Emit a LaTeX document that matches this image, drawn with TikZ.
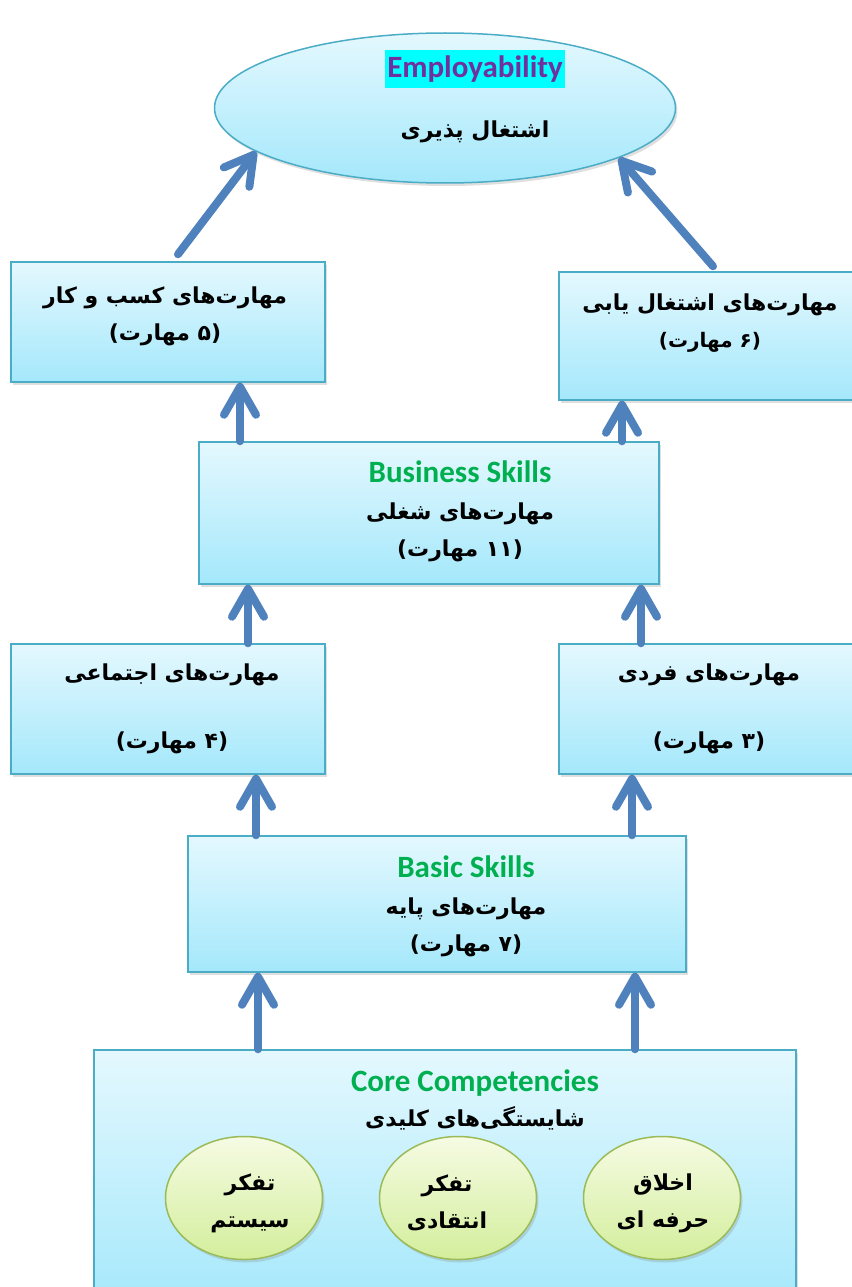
\documentclass[tikz,border=0pt]{standalone}
\usepackage{fontspec}
\setmainfont{Carlito}
\newfontfamily\farsi[Script=Arabic]{DejaVu Sans}
\TeXXeTstate=1
\usepackage{tikz}
\usetikzlibrary{positioning, arrows.meta, shapes.geometric, shadows}
\definecolor{skyedge}{HTML}{4BACC6}
\definecolor{skytop}{HTML}{E4F8FE}
\definecolor{skybot}{HTML}{A4E8FB}
\definecolor{leafedge}{HTML}{9BBB59}
\definecolor{leaftop}{HTML}{F6FBE3}
\definecolor{leafbot}{HTML}{D3EE9C}
\definecolor{arrowblue}{HTML}{4F81BD}
\definecolor{skillgreen}{HTML}{00B050}
\definecolor{titlepurple}{HTML}{7030A0}
\definecolor{markcyan}{HTML}{00FFFF}
\newcommand{\fa}[1]{{\farsi\bfseries\fontsize{22}{37}\selectfont\beginR #1\endR}}
\tikzstyle{bblock} = [rectangle, draw=skyedge, line width=1.5pt, top color=skytop, bottom color=skybot,
drop shadow={shadow xshift=2pt, shadow yshift=-3pt, opacity=0.25}, inner sep=0pt]
\tikzstyle{gblock} = [ellipse, draw=leafedge, line width=1.5pt, top color=leaftop, bottom color=leafbot,
drop shadow={shadow xshift=2pt, shadow yshift=-3pt, opacity=0.25}, inner sep=0pt,
minimum width=157pt, minimum height=123pt]
\tikzstyle{fatext} = [align=center, font=\fontsize{22}{37}\selectfont]
\tikzstyle{mixtext} = [align=center, font=\bfseries\fontsize{31}{37}\selectfont]
\tikzstyle{arrow} = [line width=8pt, arrowblue, line cap=round, -{Straight Barb[length=28pt, width=32pt, round]}]

\begin{document}
\begin{tikzpicture}[x=1pt, y=-1pt]
    \useasboundingbox (0,0) rectangle (851,1287);
    % top goal
    \node (Employ) [ellipse, draw=skyedge, line width=1.5pt, top color=skytop, bottom color=skybot,
        drop shadow={shadow xshift=2pt, shadow yshift=-3pt, opacity=0.25},
        minimum width=461pt, minimum height=150pt] at (445,108) {};
    \node (EmployEn) [fill=markcyan, text=titlepurple, font=\bfseries\fontsize{31}{37}\selectfont,
        inner xsep=2pt, minimum height=38pt] at (475,69) {Employability};
    \node (EmployFa) [fatext] at (475,132) {\fa{اشتغال پذیری}};

    % boxes
    \node (Entre) [bblock, minimum width=314pt, minimum height=120pt] at (168,322) {};
    \node (JobSeek) [bblock, minimum width=310pt, minimum height=128pt] at (714,336) {};
    \node (Business) [bblock, minimum width=460pt, minimum height=142pt] at (429,513) {};
    \node (Social) [bblock, minimum width=314pt, minimum height=130pt] at (168,709) {};
    \node (Personal) [bblock, minimum width=310pt, minimum height=130pt] at (714,709) {};
    \node (Basic) [bblock, minimum width=498pt, minimum height=136pt] at (437,904) {};
    \node (Core) [bblock, minimum width=702pt, minimum height=260pt] at (445,1180) {};

    % texts
    \node (EntreT) [fatext] at (165,316) {\fa{مهارت‌های کسب و کار}\\ \fa{(۵ مهارت)}};
    \node (JobSeekT) [fatext] at (710,323) {\fa{مهارت‌های اشتغال یابی}\\
        {\farsi\bfseries\fontsize{20}{30}\selectfont\beginR (۶ مهارت)\endR}};
    \node (BusinessT) [mixtext] at (460,511) {{\color{skillgreen}Business Skills}\\
        \fa{مهارت‌های شغلی}\\ \fa{(۱۱ مهارت)}};
    \node (SocialT) [fatext] at (172,709) {\fa{مهارت‌های اجتماعی}\\[31pt] \fa{(۴ مهارت)}};
    \node (PersonalT) [fatext] at (709,709) {\fa{مهارت‌های فردی}\\[31pt] \fa{(۳ مهارت)}};
    \node (BasicT) [mixtext] at (466,906) {{\color{skillgreen}Basic Skills}\\
        \fa{مهارت‌های پایه}\\ \fa{(۷ مهارت)}};
    \node (CoreT) [mixtext, font=\bfseries\fontsize{31}{35}\selectfont] at (475,1100) {{\color{skillgreen}Core Competencies}\\
        {\farsi\fontsize{22}{35}\selectfont\beginR شایستگی‌های کلیدی\endR}};

    % core circles
    \node (SysThink) [gblock] at (244,1198) {};
    \node (CritThink) [gblock] at (458,1198) {};
    \node (Ethics) [gblock] at (662,1198) {};
    \node [fatext] at (250,1203) {\fa{تفکر}\\ \fa{سیستم}};
    \node [fatext] at (447,1203) {\fa{تفکر}\\ \fa{انتقادی}};
    \node [fatext] at (663,1203) {\fa{اخلاق}\\ \fa{حرفه ای}};

    % arrow ends
    \coordinate (EntreOut) at ([xshift=10pt, yshift=7pt]Entre.north);
    \coordinate (JobSeekOut) at ([xshift=-1pt, yshift=5pt]JobSeek.north);
    \coordinate (BusinessL) at ([xshift=-189pt]Business.north);
    \coordinate (BusinessR) at ([xshift=193pt]Business.north);
    \coordinate (SocialOut) at ([xshift=80pt]Social.north);
    \coordinate (PersonalOut) at ([xshift=-73pt]Personal.north);
    \coordinate (BasicL) at ([xshift=-181pt]Basic.north);
    \coordinate (BasicR) at ([xshift=195pt]Basic.north);
    \coordinate (CoreL) at ([xshift=-187pt]Core.north);
    \coordinate (CoreR) at ([xshift=190pt]Core.north);

    \draw [arrow] (EntreOut) -- (Employ.193);
    \draw [arrow] (JobSeekOut) -- (Employ.344);
    \draw [arrow] (BusinessL) -- (BusinessL |- Entre.south);
    \draw [arrow] (BusinessR) -- (BusinessR |- JobSeek.south);
    \draw [arrow] (SocialOut) -- (SocialOut |- Business.south);
    \draw [arrow] (PersonalOut) -- (PersonalOut |- Business.south);
    \draw [arrow] (BasicL) -- (BasicL |- Social.south);
    \draw [arrow] (BasicR) -- (BasicR |- Personal.south);
    \draw [arrow] (CoreL) -- (CoreL |- Basic.south);
    \draw [arrow] (CoreR) -- (CoreR |- Basic.south);
\end{tikzpicture}
\end{document}
